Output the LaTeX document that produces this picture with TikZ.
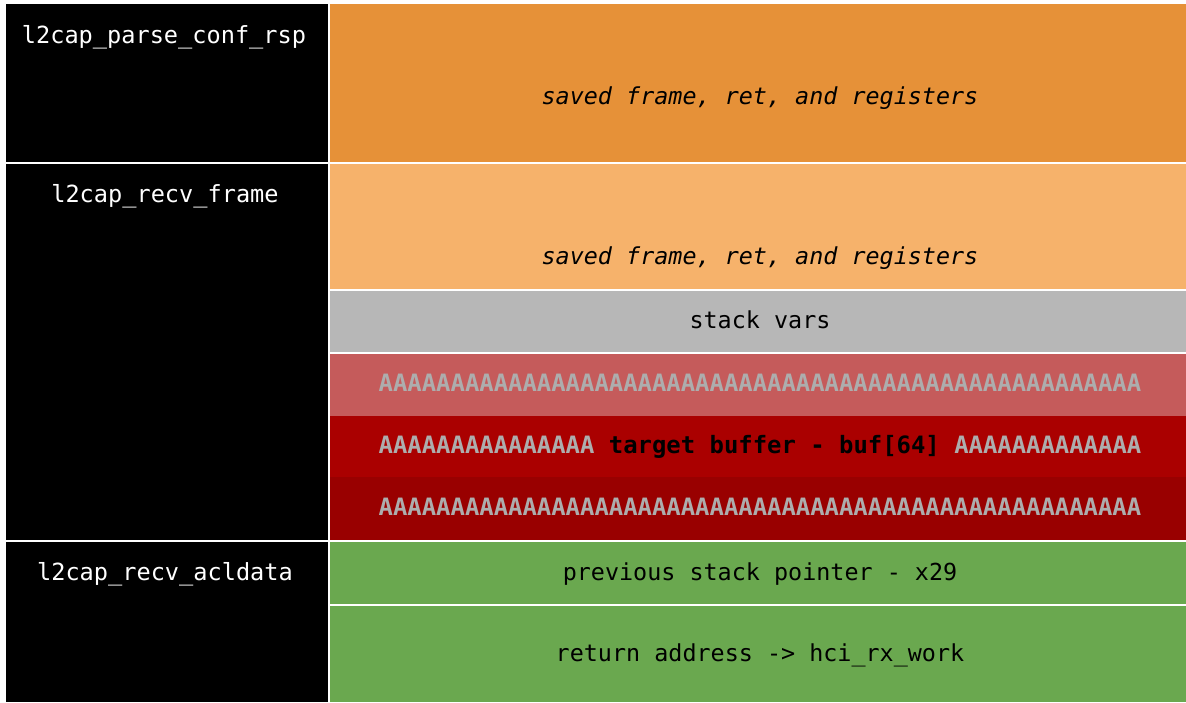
\documentclass[tikz,border=0pt]{standalone}
\usepackage{fontspec}
\setmonofont{DejaVu Sans Mono}
\definecolor{cOrange}{HTML}{E69138}
\definecolor{cLOrange}{HTML}{F6B26B}
\definecolor{cGray}{HTML}{B7B7B7}
\definecolor{cRedA}{HTML}{C55B5B}
\definecolor{cRedB}{HTML}{AA0000}
\definecolor{cRedC}{HTML}{990000}
\definecolor{cGreen}{HTML}{6AA84F}
\definecolor{cAfill}{HTML}{ADADAD}
\tikzset{
  lbl/.style={anchor=base, inner sep=0pt, text=white, font=\ttfamily\fontsize{23.6}{26}\selectfont},
  txt/.style={anchor=base, inner sep=0pt, text=black, font=\ttfamily\fontsize{23.4}{26}\selectfont},
  itxt/.style={txt, font=\ttfamily\itshape\fontsize{23.4}{26}\selectfont},
  atxt/.style={anchor=base, inner sep=0pt, text=cAfill, font=\ttfamily\bfseries\fontsize{23.9}{26}\selectfont},
}
\begin{document}
\begin{tikzpicture}[x=1pt,y=-1pt]
\fill[white] (0,0) rectangle (1186,702);
\useasboundingbox (0,0) rectangle (1186,702);
% left column
\fill[black] (6,4) rectangle (328,162);
\fill[black] (6,164) rectangle (328,540);
\fill[black] (6,542) rectangle (328,702);
% right column
\fill[cOrange] (330,4) rectangle (1186,162);
\fill[cLOrange] (330,164) rectangle (1186,289);
\fill[cGray] (330,291) rectangle (1186,352);
\fill[cRedA] (330,354) rectangle (1186,416);
\fill[cRedB] (330,416) rectangle (1186,477);
\fill[cRedC] (330,477) rectangle (1186,540);
\fill[cGreen] (330,542) rectangle (1186,604);
\fill[cGreen] (330,606) rectangle (1186,702);
% labels
\node[lbl] (l1) at (164,43) {l2cap\_parse\_conf\_rsp};
\node[lbl] (l2) at (165,202) {l2cap\_recv\_frame};
\node[lbl] (l3) at (165,580) {l2cap\_recv\_acldata};
\node[itxt] (r1) at (760,104) {saved frame, ret, and registers};
\node[itxt] (r2) at (760,264) {saved frame, ret, and registers};
\node[txt] (r3) at (760,328) {stack vars};
\node[atxt] (r4) at (760,391) {AAAAAAAAAAAAAAAAAAAAAAAAAAAAAAAAAAAAAAAAAAAAAAAAAAAAA};
\node[atxt] (r5) at (760,453) {AAAAAAAAAAAAAAA \textcolor{black}{target buffer - buf[64]} AAAAAAAAAAAAA};
\node[atxt] (r6) at (760,515) {AAAAAAAAAAAAAAAAAAAAAAAAAAAAAAAAAAAAAAAAAAAAAAAAAAAAA};
\node[txt] (r7) at (760,580) {previous stack pointer - x29};
\node[txt] (r8) at (760,661) {return address -> hci\_rx\_work};
\end{tikzpicture}
\end{document}
